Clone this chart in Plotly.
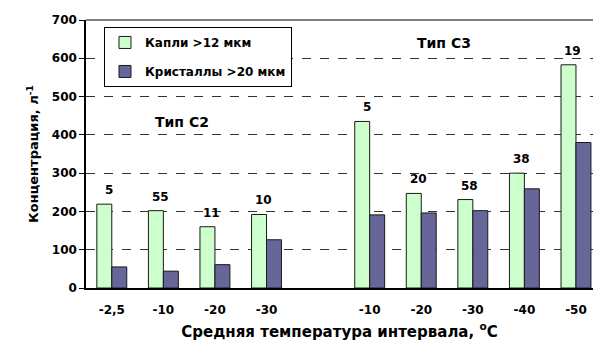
import plotly.graph_objects as go

# Temperature intervals (slot 4 is the empty gap between cloud types)
slots = [0, 1, 2, 3, 5, 6, 7, 8, 9]
tick_labels = ["-2,5", "-10", "-20", "-30", "-10", "-20", "-30", "-40", "-50"]

# Concentrations, l^-1
drops = [219, 202, 160, 192, 435, 247, 231, 300, 583]      # droplets >12 um
crystals = [55, 44, 61, 126, 191, 196, 202, 259, 380]      # crystals >20 um

# Number of cases per interval (shown above the bars)
counts = ["5", "55", "11", "10", "5", "20", "58", "38", "19"]

FONT = "DejaVu Sans"

fig = go.Figure()
fig.add_trace(go.Bar(
    x=slots, y=drops, name="Капли >12 мкм", legendgroup="a",
    marker=dict(color="#CCFFCC", line=dict(color="#1a1a1a", width=1)),
))
fig.add_trace(go.Bar(
    x=slots, y=crystals, name="Кристаллы >20 мкм", legendgroup="b",
    marker=dict(color="#666699", line=dict(color="#1a1a1a", width=1)),
))

for s, v, c in zip(slots, drops, counts):
    fig.add_annotation(x=s - 0.06, y=v, text=c, showarrow=False,
                       yanchor="middle", yshift=14,
                       font=dict(family=FONT, size=12, color="black", weight="bold"))

fig.add_annotation(x=1.36, y=433, text="Тип С2", showarrow=False,
                   font=dict(family=FONT, size=14, color="black", weight="bold"))
fig.add_annotation(x=6.44, y=640, text="Тип С3", showarrow=False,
                   font=dict(family=FONT, size=14, color="black", weight="bold"))

# frame line along the top of the plot area
fig.add_shape(type="line", xref="paper", yref="paper", x0=0, x1=1, y0=1, y1=1,
              line=dict(color="black", width=1))

fig.update_layout(
    width=593, height=347,
    margin=dict(l=86, r=0, t=20, b=59),
    paper_bgcolor="white", plot_bgcolor="white",
    barmode="group", bargap=0.42, bargroupgap=0,
    font=dict(family=FONT, color="black"),
    showlegend=True,
    legend=dict(
        x=0.0355, y=0.974, xanchor="left", yanchor="top",
        bgcolor="white", bordercolor="black", borderwidth=1,
        font=dict(family=FONT, size=12, color="black", weight="bold"),
        tracegroupgap=10, itemwidth=30,
    ),
    xaxis=dict(
        range=[-0.5, 9.33],
        tickmode="array", tickvals=slots, ticktext=tick_labels,
        showgrid=False, zeroline=False,
        showline=True, linecolor="black", linewidth=1.5,
        ticks="", ticklabelstandoff=10,
        tickfont=dict(family=FONT, size=12, color="black", weight="bold"),
        title=dict(text="Средняя температура интервала, <sup>o</sup>C",
                   font=dict(family=FONT, size=15, color="black", weight="bold"),
                   standoff=10),
    ),
    yaxis=dict(
        range=[0, 700], dtick=100,
        showgrid=True, gridcolor="#333333", griddash="dash", gridwidth=1,
        zeroline=False,
        showline=True, linecolor="black", linewidth=1.5,
        ticks="outside", ticklen=5, tickcolor="black",
        tickfont=dict(family=FONT, size=12, color="black", weight="bold"),
        title=dict(text="Концентрация, л<sup>-1</sup>",
                   font=dict(family=FONT, size=13, color="black", weight="bold"),
                   standoff=10),
    ),
)

fig.write_html("out.html")
